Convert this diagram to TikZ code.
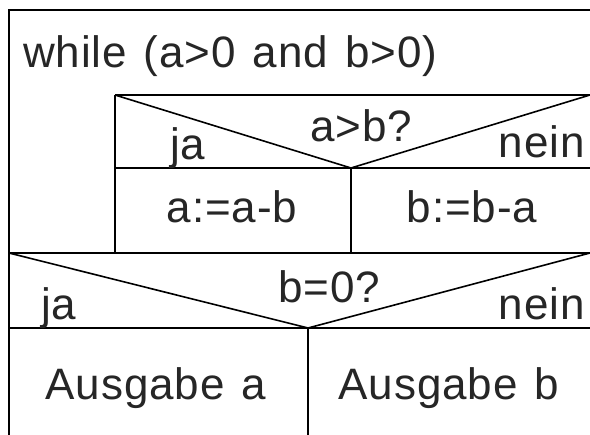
\documentclass[tikz,border=0pt]{standalone}
\usepackage{fontspec}
\setmainfont{Liberation Sans}[LetterSpace=2,WordSpace=1.3]
\begin{document}
\begin{tikzpicture}[x=1pt,y=-1pt,
  ln/.style={line width=1.6pt,black},
  lbl/.style={inner sep=0pt,anchor=base,font=\fontsize{44}{50}\selectfont,text=black!85},
  lbll/.style={lbl,anchor=base west},
  lblr/.style={lbl,anchor=base east}]
\useasboundingbox (0,0) rectangle (590,435);
\fill[white] (0,0) rectangle (590,435);
\begin{scope}
\clip (0,0) rectangle (590,435);
% key points
\coordinate (TL) at (9,10);
\coordinate (TR) at (595,10);
\coordinate (BL) at (9,440);
\coordinate (IL) at (115,95);
\coordinate (IR) at (595,95);
\coordinate (IRr) at (590,95);
\coordinate (V1) at (351,168);
\coordinate (L1) at (115,168);
\coordinate (R1) at (595,168);
\coordinate (D1) at (351,253);
\coordinate (L2) at (9,253);
\coordinate (R2) at (595,253);
\coordinate (R2r) at (590,253);
\coordinate (V2) at (308,328);
\coordinate (L3) at (9,328);
\coordinate (R3) at (595,328);
\coordinate (D2) at (308,440);
% outer frame
\draw[ln] (BL) -- (TL) -- (TR);
% while body top and left
\draw[ln] (IL) -- (IR);
\draw[ln] (IL) -- (115,253);
% first decision
\draw[ln] (IL) -- (V1) -- (IRr);
\draw[ln] (L1) -- (R1);
\draw[ln] (V1) -- (D1);
\draw[ln] (L2) -- (R2);
% second decision
\draw[ln] (L2) -- (V2) -- (R2r);
\draw[ln] (L3) -- (R3);
\draw[ln] (V2) -- (D2);
\end{scope}
% texts
\node[lbll] (w) at (23,68) {while (a>0 and b>0)};
\node[lbll] (c1) at (310,142) {a>b?};
\node[lbll] (j1) at (170,160) {ja};
\node[lblr] (n1) at (585,158) {nein};
\node[lbl] (s1) at (232,223) {a:=a-b};
\node[lbl] (s2) at (472,223) {b:=b-a};
\node[lbll] (c2) at (278,303) {b=0?};
\node[lbll] (j2) at (41,320) {ja};
\node[lblr] (n2) at (585,320) {nein};
\node[lbl] (o1) at (156,400) {Ausgabe a};
\node[lbl] (o2) at (449,400) {Ausgabe b};
\end{tikzpicture}
\end{document}
